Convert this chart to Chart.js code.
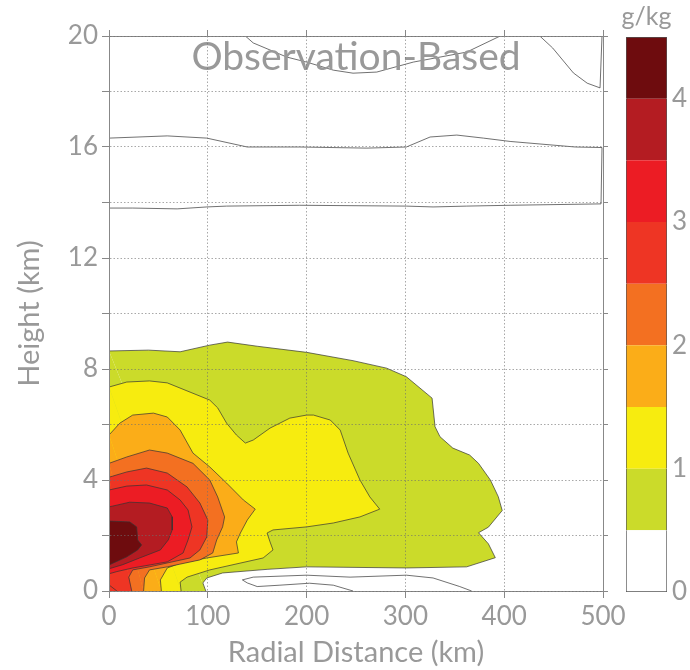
<!DOCTYPE html>
<html>
<head>
<meta charset="utf-8">
<script src="https://cdn.jsdelivr.net/npm/chart.js@4.4.0/dist/chart.umd.min.js"></script>
<style>
  body { margin: 0; background: #fff; }
  #wrap { position: relative; width: 690px; height: 670px; }
  #main { position: absolute; left: 0; top: 0; }
  #cbar { position: absolute; left: 605px; top: 0; }
</style>
</head>
<body>
<div id="wrap">
  <canvas id="main" width="690" height="670"></canvas>
  <canvas id="cbar" width="85" height="670"></canvas>
</div>
<script>
// contour outlines [radial km, height km], one per filled level
const lvl05 = [[0,8.65],[40,8.68],[72,8.62],[102,8.86],[120,8.97],[150,8.82],[200,8.6],[247,8.3],[281,8.03],[301,7.72],[327,6.95],[330,5.92],[335,5.56],[348,5.15],[365,4.9],[374,4.6],[386,4.0],[394,3.4],[398,2.9],[384,2.3],[374,2.1],[384,1.7],[391,1.2],[362,0.87],[301,0.83],[200,0.87],[160,0.78],[115,0.65],[99,0.47],[95,0.29],[98,0],[0,0],[0,8.65]];
const lvl10 = [[0,7.35],[18,7.53],[41,7.57],[59,7.5],[102,6.88],[110,6.6],[119,6.05],[129,5.62],[138,5.33],[146,5.44],[163,5.87],[183,6.23],[200,6.34],[207,6.34],[224,6.16],[234,5.8],[242,4.97],[254,4.0],[264,3.39],[274,2.95],[254,2.67],[227,2.45],[200,2.31],[166,2.2],[160,2.09],[163,1.77],[166,1.48],[156,1.19],[102,0.76],[79,0.5],[72,0.32],[73,0],[0,0],[0,7.35]];
const lvl15 = [[0,5.62],[11,6.05],[24,6.34],[45,6.41],[59,6.27],[72,5.8],[85,4.97],[102,4.47],[119,3.89],[136,3.28],[148,2.95],[140,2.56],[133,2.09],[129,1.77],[131,1.37],[99,1.19],[72,1.0],[59,0.83],[52,0.4],[53,0],[0,0],[0,5.62]];
const lvl20 = [[0,4.6],[18,4.83],[41,5.08],[59,4.97],[85,4.6],[102,4.0],[110,3.39],[117,2.67],[115,2.31],[109,1.84],[105,1.37],[92,1.12],[59,0.87],[41,0.76],[36,0.47],[35,0],[0,0],[0,4.6]];
const lvl25 = [[0,4.1],[18,4.29],[38,4.43],[59,4.25],[79,3.75],[92,3.17],[100,2.56],[99,1.95],[92,1.48],[82,1.19],[41,0.87],[24,0.76],[20,0.5],[23,0],[0,0],[0,4.1]];
const lvl30 = [[0,3.64],[18,3.78],[38,3.82],[59,3.64],[72,3.28],[80,2.92],[84,2.31],[80,1.84],[75,1.37],[59,1.05],[24,0.83],[8,0.7],[0,0.62],[0,3.64]];
const lvl30corner = [[0,0],[0,0.22],[8,0],[0,0]];
const lvl35 = [[0,3.03],[21,3.2],[41,3.17],[59,2.99],[64,2.67],[64,2.2],[60,1.84],[52,1.48],[31,1.19],[14,0.95],[0,0.8],[0,3.03]];
const lvl40 = [[0,2.52],[21,2.49],[28,2.31],[29,1.84],[33,1.66],[29,1.48],[18,1.23],[0,0.94],[0,2.52]];

// unfilled contour lines
const lowLoop = [[247,0],[227,0.21],[203,0.28],[173,0.21],[150,0.16],[140,0.29],[135,0.4],[146,0.5],[200,0.57],[244,0.5],[301,0.57],[328,0.47],[355,0.16],[367,0]];
const upperLoop = [[0,13.8],[24,13.8],[69,13.77],[99,13.84],[119,13.87],[193,13.9],[301,13.87],[328,13.84],[362,13.87],[406,13.9],[498,13.95],[499,15.98],[472,16.0],[406,16.2],[379,16.32],[352,16.43],[325,16.36],[301,16.0],[261,15.96],[193,16.0],[166,16.0],[140,16.0],[99,16.32],[59,16.4],[0,16.32]];
const topLine1 = [[138,20],[146,19.75],[180,19.24],[200,19.06],[227,18.77],[247,18.66],[271,18.7],[308,19.06],[362,19.42],[396,20]];
const topLine2 = [[436,20],[449,19.57],[470,18.67],[484,18.3],[497,18.13],[499,20]];

const xTicks = [0, 100, 200, 300, 400, 500];
const yTicks = [0, 4, 8, 12, 16, 20];
const cbarLevels = [0, 0.5, 1, 1.5, 2, 2.5, 3, 3.5, 4, 4.5];
const cbarTicks = [0, 1, 2, 3, 4];

const bandColors = ['#ffffff', '#cbdb2a', '#f7ec0f', '#fbad18', '#f37021', '#ee3524', '#ec1c24', '#b41c22', '#6e0c0e'];
const gray = '#999999';
const axisColor = '#888888';
const gridColor = 'rgba(110,110,110,0.6)';
const fam = 'Lato, "Open Sans", sans-serif';

const toPts = arr => arr.map(p => ({ x: p[0], y: p[1] }));
const onEdge = ctx => {
    const a = ctx.p0.parsed, b = ctx.p1.parsed;
    return (a.x === 0 && b.x === 0) || (a.y === 0 && b.y === 0) ||
           (a.x === 500 && b.x === 500) || (a.y === 20 && b.y === 20);
};

const filled = [
    { pts: lvl05, band: 1 },
    { pts: lvl10, band: 2 },
    { pts: lvl15, band: 3 },
    { pts: lvl20, band: 4 },
    { pts: lvl25, band: 5 },
    { pts: lvl30, band: 6 },
    { pts: lvl30corner, band: 6 },
    { pts: lvl35, band: 7 },
    { pts: lvl40, band: 8 }
];
const lines = [lowLoop, upperLoop, topLine1, topLine2];

const datasets = [];
filled.forEach((f, i) => {
    datasets.push({
        data: toPts(f.pts),
        showLine: true,
        fill: 'shape',
        backgroundColor: bandColors[f.band],
        borderColor: '#333333',
        borderWidth: 0.7,
        pointRadius: 0,
        tension: 0,
        clip: 0,
        order: 100 - i,
        segment: { borderColor: ctx => onEdge(ctx) ? 'rgba(0,0,0,0)' : undefined }
    });
});
lines.forEach(l => {
    datasets.push({
        data: toPts(l),
        showLine: true,
        fill: false,
        borderColor: '#333333',
        borderWidth: 0.7,
        pointRadius: 0,
        tension: 0,
        clip: 0,
        order: 0,
        segment: { borderColor: ctx => onEdge(ctx) ? 'rgba(0,0,0,0)' : undefined }
    });
});

// big grey label inside the plot
const panelTitle = {
    id: 'panelTitle',
    afterDatasetsDraw(chart) {
        const { ctx, chartArea } = chart;
        ctx.save();
        ctx.font = '39px ' + fam;
        ctx.fillStyle = gray;
        ctx.textAlign = 'center';
        ctx.textBaseline = 'alphabetic';
        ctx.fillText('Observation-Based', (chartArea.left + chartArea.right) / 2, chartArea.top + 34);
        ctx.restore();
    }
};

new Chart(document.getElementById('main'), {
    type: 'scatter',
    data: { datasets: datasets },
    options: {
        responsive: false,
        animation: false,
        layout: { padding: 0 },
        plugins: { legend: { display: false }, tooltip: { enabled: false } },
        scales: {
            x: {
                type: 'linear', position: 'bottom', min: 0, max: 500,
                afterBuildTicks: s => { s.ticks = xTicks.map(v => ({ value: v })); },
                ticks: { color: gray, font: { family: fam, size: 26 }, padding: 3, maxRotation: 0 },
                grid: { color: gridColor, tickLength: 7, tickColor: axisColor, z: 1 },
                border: { color: axisColor, dash: [1.5, 2], z: 1 },
                title: { display: true, text: 'Radial Distance (km)', color: gray, font: { family: fam, size: 29 }, padding: 0 },
                afterFit: s => { s.height = 79; }
            },
            x2: {
                type: 'linear', position: 'top', min: 0, max: 500,
                afterBuildTicks: s => { s.ticks = xTicks.map(v => ({ value: v })); },
                ticks: { display: false },
                grid: { drawOnChartArea: false, tickLength: 6, tickColor: axisColor },
                border: { color: axisColor, z: 1 },
                afterFit: s => { s.height = 36; }
            },
            y: {
                type: 'linear', position: 'left', min: 0, max: 20,
                ticks: {
                    stepSize: 2, color: gray, font: { family: fam, size: 26 }, padding: 4,
                    callback: v => yTicks.includes(v) ? v : ''
                },
                grid: { color: gridColor, tickLength: 7, tickColor: axisColor, z: 1 },
                border: { color: axisColor, dash: [1.5, 2], z: 1 },
                title: { display: true, text: 'Height (km)', color: gray, font: { family: fam, size: 29 }, padding: { top: 12, bottom: 0 } },
                afterFit: s => { s.width = 109; }
            },
            y2: {
                type: 'linear', position: 'right', min: 0, max: 20,
                ticks: { stepSize: 2, display: false },
                grid: { drawOnChartArea: false, tickLength: 5, tickColor: axisColor },
                border: { color: axisColor, z: 1 },
                afterFit: s => { s.width = 87; }
            }
        }
    },
    plugins: [panelTitle]
});

// colour bar
const unitLabel = {
    id: 'unitLabel',
    afterDraw(chart) {
        const { ctx, chartArea } = chart;
        ctx.save();
        ctx.font = '25px ' + fam;
        ctx.fillStyle = gray;
        ctx.textAlign = 'center';
        ctx.textBaseline = 'alphabetic';
        ctx.fillText('g/kg', (chartArea.left + chartArea.right) / 2, 25);
        ctx.restore();
    }
};

const nBands = cbarLevels.length - 1;
new Chart(document.getElementById('cbar'), {
    type: 'bar',
    data: {
        labels: [''],
        datasets: bandColors.map((c, i) => ({
            data: [cbarLevels[i + 1] - cbarLevels[i]],
            backgroundColor: c,
            borderColor: '#555555',
            borderWidth: { left: 1, right: 1, top: i === nBands - 1 ? 1 : 0, bottom: i === 0 ? 1 : 0 },
            borderSkipped: false,
            barPercentage: 1,
            categoryPercentage: 1
        }))
    },
    options: {
        responsive: false,
        animation: false,
        layout: { padding: { left: 21, top: 37, bottom: 78, right: 0 } },
        plugins: { legend: { display: false }, tooltip: { enabled: false } },
        scales: {
            x: { display: false, stacked: true },
            y: {
                stacked: true, position: 'right', min: 0, max: 4.5,
                afterBuildTicks: s => { s.ticks = cbarTicks.map(v => ({ value: v })); },
                ticks: { color: gray, font: { family: fam, size: 26 }, padding: 5 },
                grid: { display: false, drawTicks: false },
                border: { display: false },
                afterFit: s => { s.width = 23; }
            }
        }
    },
    plugins: [unitLabel]
});
</script>
</body>
</html>
